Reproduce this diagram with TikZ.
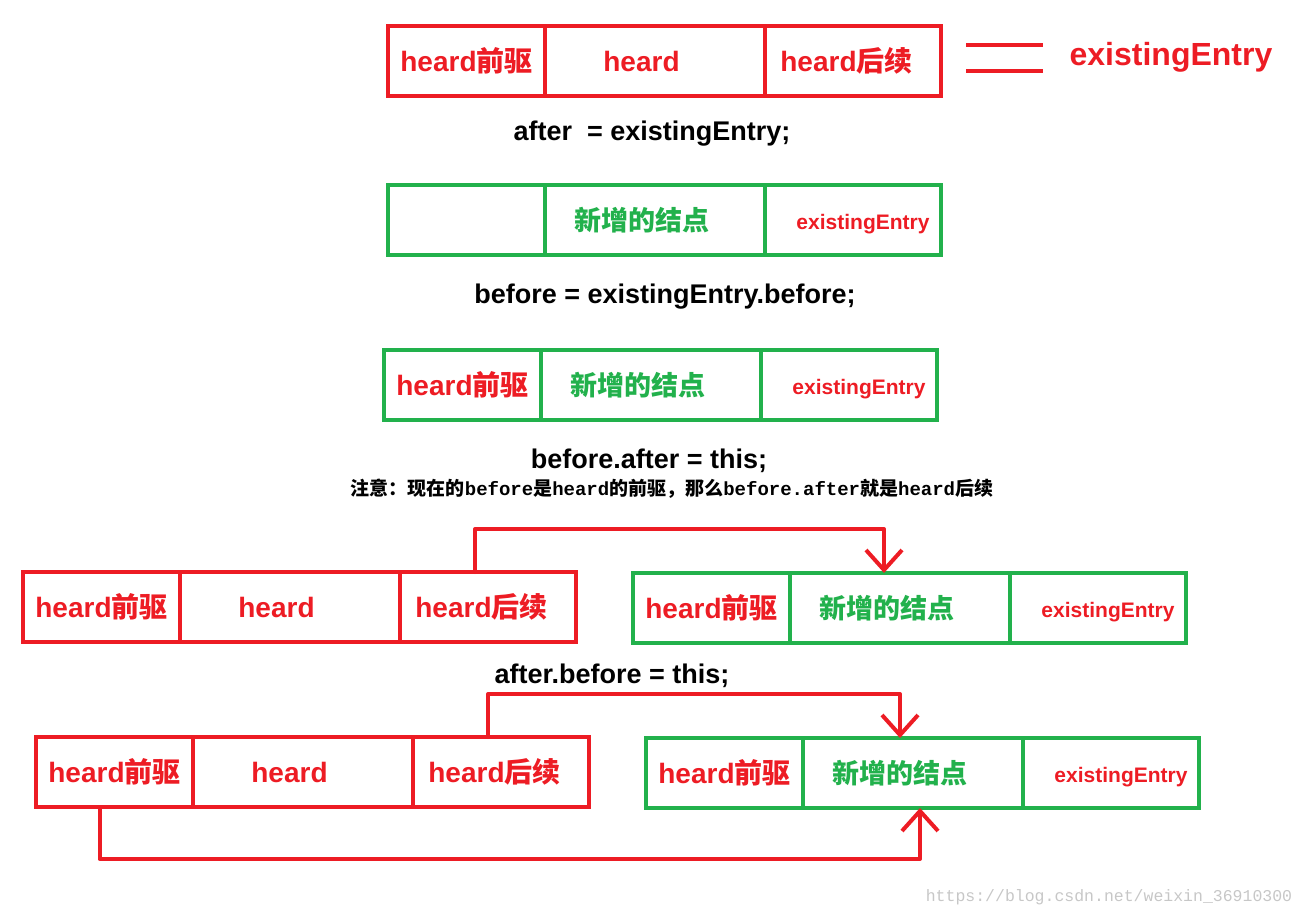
\documentclass[tikz,border=0pt]{standalone}
\usepackage{fontspec}
\setmainfont{Liberation Sans}
\newfontfamily\cjk{Noto Sans CJK SC}
\newfontfamily\notefont{Liberation Mono}
\usetikzlibrary{arrows.meta,positioning}
\definecolor{pred}{RGB}{237,28,36}
\definecolor{pgreen}{RGB}{34,177,76}
\newcommand{\zh}[1]{{\cjk #1}}
\newcommand{\fs}[1]{\fontsize{#1}{#1}\selectfont}
\tikzset{
  cell/.style     = {line width=4pt,minimum height=70pt,inner sep=0pt,outer sep=0pt,
                     font=\bfseries\fs{28}},
  redbox/.style   = {cell,draw=pred,text=pred},
  greenbox/.style = {cell,draw=pgreen,text=pgreen},
  code/.style     = {font=\bfseries\fs{27}},
  link/.style     = {pred,line width=4pt,line cap=round,line join=round,
                     -{Straight Barb[length=20pt,width=36pt,line width=4pt]}}
}
\newcommand{\entrybox}[6]{%
  \node[#3,minimum width=157pt,anchor=north west] (#1a) at (#2) {#4};
  \node[#3,minimum width=220pt,right=0pt of #1a] (#1b) {\kern-27pt#5};
  \node[#3,minimum width=176pt,right=0pt of #1b] (#1c) {#6};
}
\newcommand{\prevtxt}{{\color{pred}heard\zh{前驱}}}
\newcommand{\nexttxt}{\kern-13pt heard\zh{后续}}
\newcommand{\addtxt}{{\color{pgreen}\fs{27}\zh{新增的结点}}}
\newcommand{\entrytxt}{\kern20pt\raisebox{-4pt}[\height][\depth]{\color{pred}\fs{21}existingEntry}}

\begin{document}
\begin{tikzpicture}[x=1pt,y=-1pt]
  \useasboundingbox (0,0) rectangle (1305,917);
  % the entry and its name
  \entrybox{top}{388,26}{redbox}{heard\zh{前驱}}{heard}{\nexttxt}
  \draw[pred,line width=4pt] (966,45) -- (1043,45) (966,71) -- (1043,71);
  \node[text=pred,font=\bfseries\fs{32}] (same) at (1171,57) {existingEntry};
  \node[code] (step1) at (652,134) {after\ \ = existingEntry;};
  \entrybox{add}{388,185}{greenbox}{}{\addtxt}{\entrytxt}
  \node[code] (step2) at (665,297) {before = existingEntry.before;};
  \entrybox{set}{384,350}{greenbox}{\prevtxt}{\addtxt}{\entrytxt}
  \node[code] (step3) at (649,461) {before.after = this;};
  \node[font=\notefont\bfseries\fs{19}] (note) at (672,489)
    {\zh{注意：现在的}before\zh{是}heard\zh{的前驱，那么}before.after\zh{就是}heard\zh{后续}};
  % before.after
  \entrybox{la}{23,572}{redbox}{heard\zh{前驱}}{heard}{\nexttxt}
  \entrybox{ra}{633,573}{greenbox}{\prevtxt}{\addtxt}{\entrytxt}
  \draw[link] ([xshift=-13pt]lac.north) -- ++(0,-43) -| ([xshift=-16pt]rab.north);
  \node[code] (step4) at (612,676) {after.before = this;};
  % after.before
  \entrybox{lb}{36,737}{redbox}{heard\zh{前驱}}{heard}{\nexttxt}
  \entrybox{rb}{646,738}{greenbox}{\prevtxt}{\addtxt}{\entrytxt}
  \draw[link] ([xshift=-13pt]lbc.north) -- ++(0,-43) -| ([xshift=-13pt]rbb.north);
  \draw[link] ([xshift=-15pt]lba.south) -- ++(0,52) -| ([xshift=7pt]rbb.south);
  \node[text=black!22,font=\notefont\fs{16.5}] (wmark) at (1109,897)
    {https://blog.csdn.net/weixin\_36910300};
\end{tikzpicture}
\end{document}
